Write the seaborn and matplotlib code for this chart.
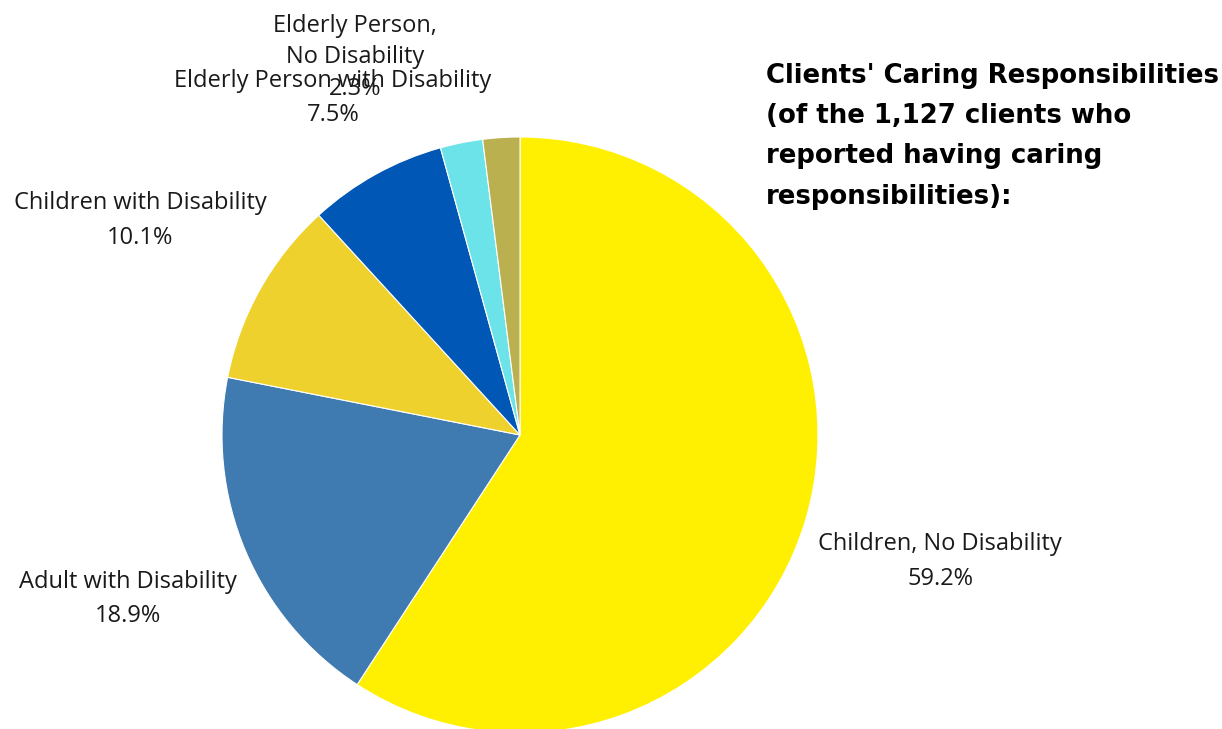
import matplotlib
matplotlib.use("Agg")
import matplotlib.pyplot as plt
import seaborn as sns

categories = ["Children, No Disability", "Adult with Disability", "Children with Disability",
              "Elderly Person with Disability", "Elderly Person,\nNo Disability", ""]
values = [59.2, 18.9, 10.1, 7.5, 2.3, 2.0]
pct_labels = ["59.2%", "18.9%", "10.1%", "7.5%", "2.3%", ""]
colors = ["#FFEF00", "#3F7AB0", "#EED12C", "#0057B5", "#6BE3E9", "#BAB04F"]

# label layout (data coords, pie radius = 1) and line spacing
label_pos = [(1.41, -0.425), (-1.315, -0.55), (-1.275, 0.72), (-0.628, 1.13), (-0.554, 1.268), (0, 0)]
label_spacing = [1.58, 1.58, 1.58, 1.58, 1.42, 1.58]

sns.set_theme(style="white")
plt.rcParams['font.family'] = ['Open Sans', 'DejaVu Sans']

W, H = 1222, 729
fig = plt.figure(figsize=(W / 100, H / 100), dpi=100)
cx, cy, r = 520, 729 - 435, 298
ax = fig.add_axes([(cx - r) / W, (cy - r) / H, 2 * r / W, 2 * r / H])

wedges, _ = ax.pie(values, colors=colors, startangle=90, counterclock=False,
                   wedgeprops=dict(edgecolor="white", linewidth=0.8))
for w in wedges:
    w.set_clip_on(False)
ax.set_xlim(-1, 1)
ax.set_ylim(-1, 1)
ax.set_aspect("auto")
ax.axis("off")

for cat, pct, (x, y), ls in zip(categories, pct_labels, label_pos, label_spacing):
    if not cat:
        continue
    ax.text(x, y, f"{cat}\n{pct}", ha="center", va="center", fontsize=17,
            color="#1a1a1a", linespacing=ls, clip_on=False)

fig.text(766 / W, 1 - 63 / H,
         "Clients' Caring Responsibilities\n(of the 1,127 clients who\nreported having caring\nresponsibilities):",
         ha="left", va="top", fontsize=18.7, fontweight="bold", family=["DejaVu Sans"],
         color="black", linespacing=1.71)

fig.savefig("out.png", dpi=100)
